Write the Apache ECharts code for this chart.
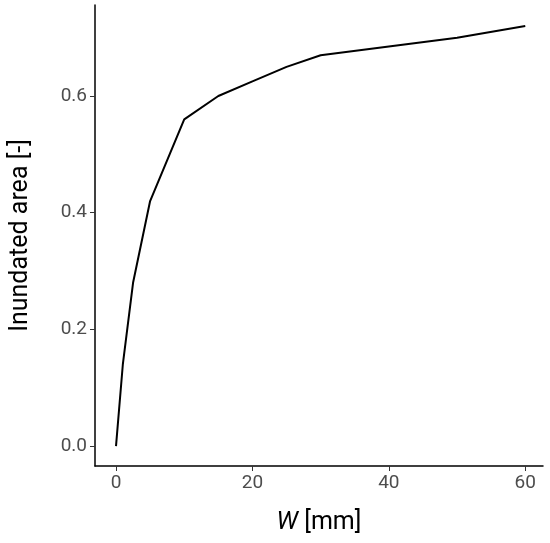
<!DOCTYPE html>
<html>
<head>
<meta charset="utf-8">
<script src="https://cdn.jsdelivr.net/npm/echarts@6/dist/echarts.min.js"></script>
<style>html,body{margin:0;padding:0;background:#fff}#chart{width:550px;height:543px}</style>
</head>
<body>
<div id="chart"></div>
<script>
var widthMm = [0, 1, 2.5, 5, 10, 15, 20, 25, 30, 40, 50, 60];
var area = [0.0, 0.14, 0.28, 0.42, 0.56, 0.60, 0.625, 0.65, 0.67, 0.685, 0.70, 0.72];
var xTicks = [0, 20, 40, 60];
var yTicks = [0, 0.2, 0.4, 0.6];

var chart = echarts.init(document.getElementById('chart'));
var axisCommon = {
  axisLine: {show: true, onZero: false, lineStyle: {color: '#000', width: 1.5}},
  axisTick: {show: true, length: 5, lineStyle: {color: '#333'}},
  splitLine: {show: false},
  nameTextStyle: {color: '#000', fontSize: 25, fontFamily: 'Roboto'}
};
chart.setOption({
  animation: false,
  grid: {left: 95, top: 5, right: 7, bottom: 77},
  xAxis: Object.assign({}, axisCommon, {
    type: 'value', min: -3.08, max: 62.6,
    axisTick: Object.assign({}, axisCommon.axisTick, {customValues: xTicks}),
    axisLabel: {customValues: xTicks, color: '#4d4d4d', fontSize: 19, fontFamily: 'Roboto', margin: 8},
    name: '{i|W} [mm]', nameLocation: 'middle', nameGap: 44,
    nameTextStyle: {color: '#000', fontSize: 25, fontFamily: 'Roboto',
      rich: {i: {fontStyle: 'italic', fontSize: 25, fontFamily: 'Roboto', color: '#000'}}}
  }),
  yAxis: Object.assign({}, axisCommon, {
    type: 'value', min: -0.034, max: 0.756,
    axisTick: Object.assign({}, axisCommon.axisTick, {customValues: yTicks}),
    axisLabel: {customValues: yTicks, color: '#4d4d4d', fontSize: 19, fontFamily: 'Roboto', margin: 8,
      formatter: function (v) { return v.toFixed(1); }},
    name: 'Inundated area [-]', nameLocation: 'middle', nameGap: 62
  }),
  series: [{
    type: 'line', symbol: 'none',
    data: widthMm.map(function (w, i) { return [w, area[i]]; }),
    lineStyle: {color: '#000', width: 2}
  }]
});
</script>
</body>
</html>
